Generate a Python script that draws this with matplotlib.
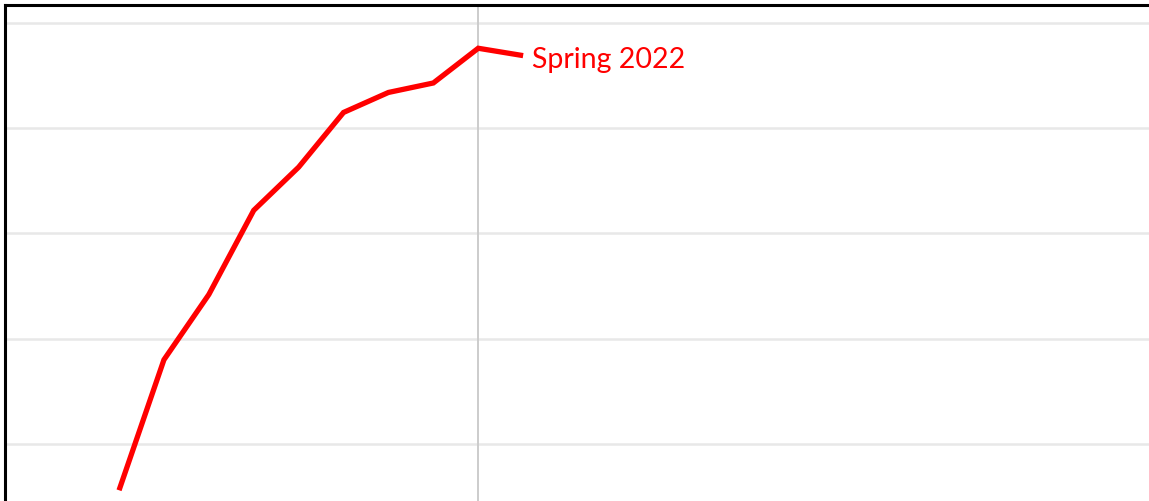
import matplotlib
matplotlib.use("Agg")
import matplotlib.pyplot as plt

# ---------- DATA ----------
# season index along x, value read off the gridlines (one gridline = 10 units)
season_idx = [0, 1, 2, 3, 4, 5, 6, 7, 8, 9]
values = [-4.4, 8.0, 14.2, 22.2, 26.3, 31.5, 33.4, 34.3, 37.6, 36.9]
label_text = "Spring 2022"
marker_idx = 8          # vertical reference line
grid_ticks = [0, 10, 20, 30, 40]

# ---------- FIGURE ----------
fig = plt.figure(figsize=(11.49, 5.01), dpi=100)
ax = fig.add_axes([5 / 1149, 0, 1 - 5 / 1149, 496 / 501])

ax.plot(season_idx, values, color="#ff0000", lw=3.8, solid_capstyle="butt",
        solid_joinstyle="miter", zorder=3)
ax.axvline(marker_idx, color="#cccccc", lw=1.4, zorder=1)

# end label, placed just right of the last point
ax.annotate(label_text, xy=(season_idx[-1], values[-1]),
            xytext=(9, -12), textcoords="offset pixels",
            color="#ff0000", fontsize=20.5, family="Lato",
            va="baseline", ha="left")

ax.set_yticks(grid_ticks)
ax.yaxis.grid(True, color="#e8e8e8", lw=1.8)
ax.set_axisbelow(True)
ax.tick_params(left=False, bottom=False, labelleft=False, labelbottom=False)

ax.set_xlim(-2.54, 22.94)
ax.set_ylim(-5.42, 41.71)

for side in ["right", "bottom"]:
    ax.spines[side].set_visible(False)
for side in ["left", "top"]:
    ax.spines[side].set_linewidth(2.2)
    ax.spines[side].set_color("black")

fig.savefig("out.png", dpi=100)
